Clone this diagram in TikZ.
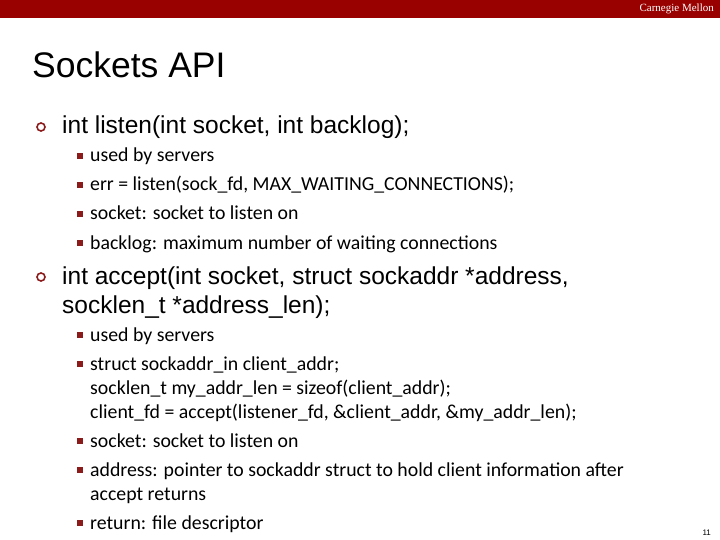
\documentclass[tikz,border=0pt]{standalone}
\usepackage{fontspec}
\setmainfont{Liberation Sans}
\newfontfamily\subfont{Carlito}
\newfontfamily\brandfont{Liberation Serif}
\definecolor{cmured}{HTML}{990000}
\definecolor{bulred}{HTML}{8B1A1A}
\tikzset{
  x=1pt,y=-1pt,
  ring/.style={draw=bulred,line width=1.6pt,circle,minimum size=8pt,inner sep=0pt},
  sq/.style={fill=bulred,minimum size=6pt,inner sep=0pt},
  lvlone/.style={anchor=base west,inner sep=0pt,font=\fontsize{24.5}{28}\selectfont},
  lvltwo/.style={anchor=base west,inner sep=0pt,font=\subfont\fontsize{19.8}{24}\selectfont}
}
\begin{document}
\begin{tikzpicture}
\useasboundingbox (0,0) rectangle (720,540);
\fill[cmured] (0,0) rectangle (720,18);
\node[anchor=base east,inner sep=0pt,text=white,font=\brandfont\fontsize{11}{12}\selectfont] (brand) at (714,12) {Carnegie Mellon};
\node[anchor=base west,inner sep=0pt,font=\fontsize{35.5}{40}\selectfont] (title) at (32,78) {Sockets API};
\node[ring] (r1) at (41,127) {};
\node[lvlone] (t1) at (62,134) {int listen(int socket, int backlog);};
\foreach \y/\t [count=\i] in {157/{used by servers},186/{err = listen(sock\_fd, MAX\_WAITING\_CONNECTIONS);},215/{socket: socket to listen on},244/{backlog: maximum number of waiting connections}}{
  \node[sq] (s\i) at (80,\y-1) {};
  \node[lvltwo] (u\i) at (90,\y+5) {\t};
}
\node[ring] (r2) at (41,277) {};
\node[lvlone] (t2) at (62,284) {int accept(int socket, struct sockaddr *address,};
\node[lvlone] (t2b) at (62,313) {socklen\_t *address\_len);};
\node[sq] (v1) at (80,335) {};
\node[lvltwo] (w1) at (90,341) {used by servers};
\node[sq] (v2) at (80,364) {};
\node[lvltwo] (w2) at (90,370) {struct sockaddr\_in client\_addr;};
\node[lvltwo] (w2b) at (90,394) {socklen\_t my\_addr\_len = sizeof(client\_addr);};
\node[lvltwo] (w2c) at (90,418) {client\_fd = accept(listener\_fd, \&client\_addr, \&my\_addr\_len);};
\node[sq] (v3) at (80,441) {};
\node[lvltwo] (w3) at (90,447) {socket: socket to listen on};
\node[sq] (v4) at (80,470) {};
\node[lvltwo] (w4) at (90,476) {address: pointer to sockaddr struct to hold client information after};
\node[lvltwo] (w4b) at (90,500) {accept returns};
\node[sq] (v5) at (80,523) {};
\node[lvltwo] (w5) at (90,529) {return: file descriptor};
\node[anchor=base east,inner sep=0pt,font=\fontsize{8}{9}\selectfont] (pg) at (711,535) {11};
\end{tikzpicture}
\end{document}
